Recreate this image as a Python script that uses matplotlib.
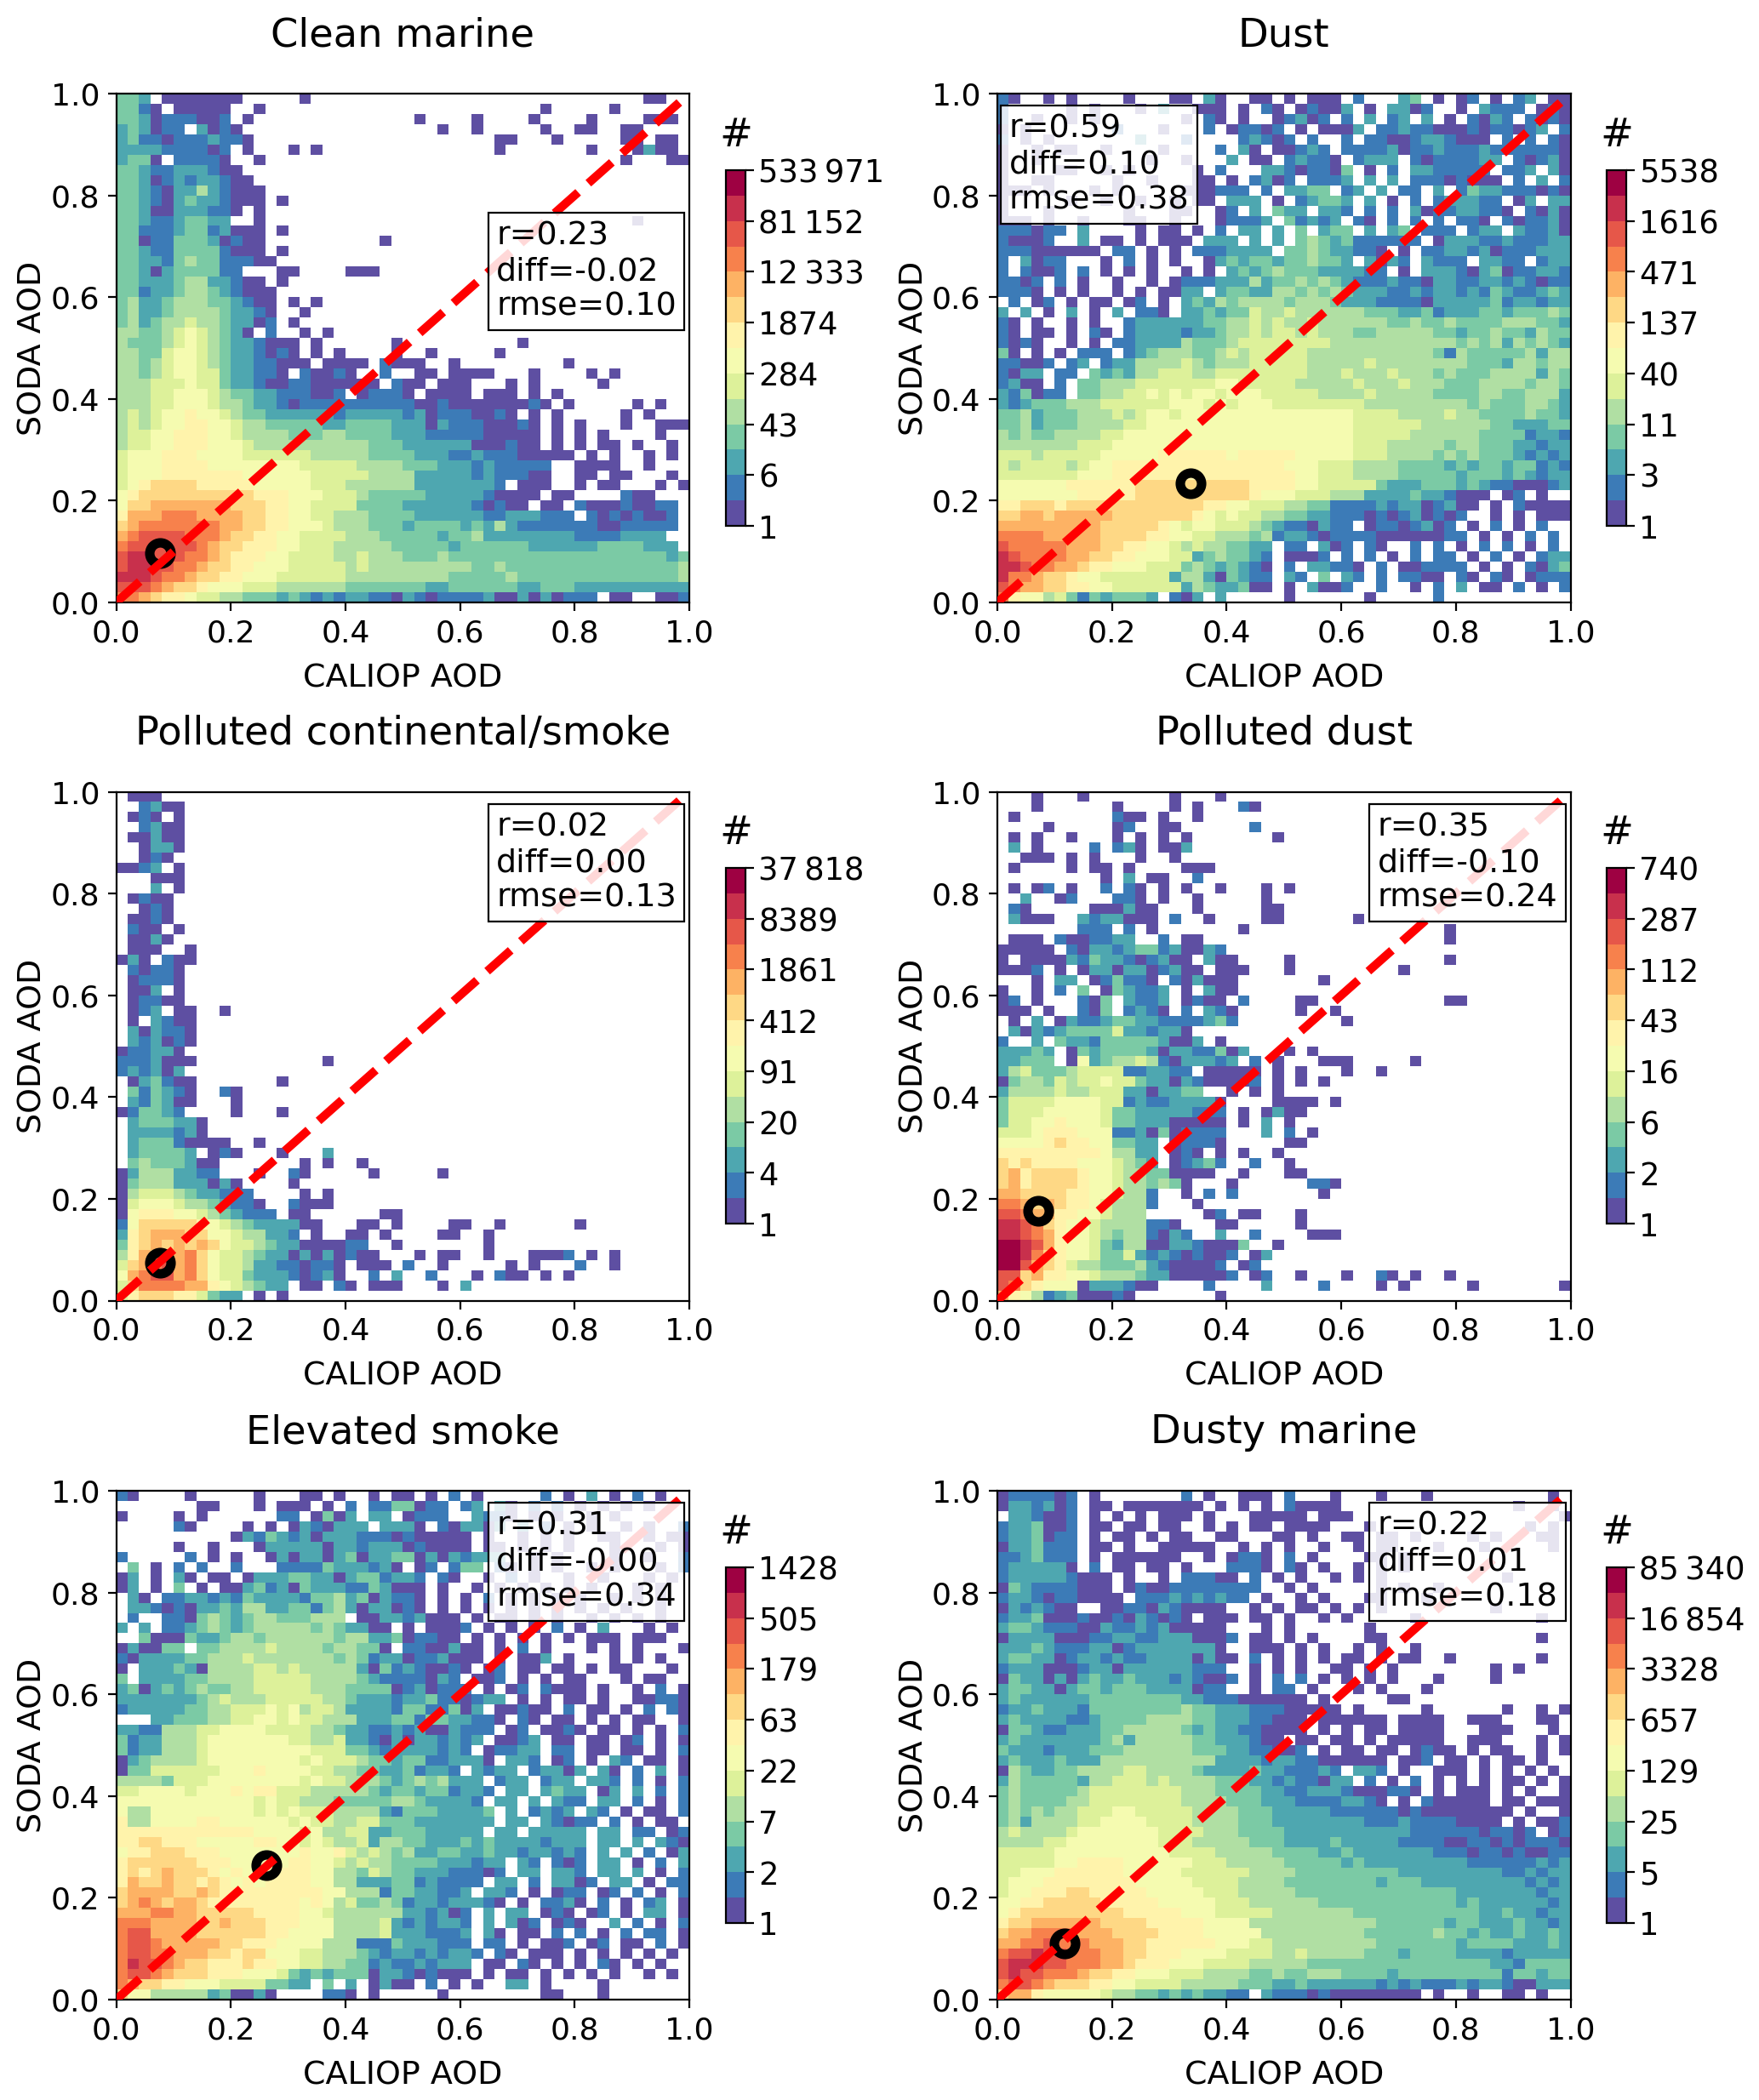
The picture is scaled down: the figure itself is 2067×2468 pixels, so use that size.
import matplotlib

matplotlib.use("Agg")
import matplotlib.pyplot as plt
import numpy as np
from matplotlib.colors import LogNorm

TITLES = ["Clean marine", "Dust", "Polluted continental/smoke",
          "Polluted dust", "Elevated smoke", "Dusty marine"]
VMAX = [533971, 5538, 37818, 740, 1428, 85340]
CB_LABELS = [
    ["1", "6", "43", "284", "1874", "12\u2009333", "81\u2009152", "533\u2009971"],
    ["1", "3", "11", "40", "137", "471", "1616", "5538"],
    ["1", "4", "20", "91", "412", "1861", "8389", "37\u2009818"],
    ["1", "2", "6", "16", "43", "112", "287", "740"],
    ["1", "2", "7", "22", "63", "179", "505", "1428"],
    ["1", "5", "25", "129", "657", "3328", "16\u2009854", "85\u2009340"],
]
STATS = ["r=0.23\ndiff=-0.02\nrmse=0.10", "r=0.59\ndiff=0.10\nrmse=0.38",
         "r=0.02\ndiff=0.00\nrmse=0.13", "r=0.35\ndiff=-0.10\nrmse=0.24",
         "r=0.31\ndiff=-0.00\nrmse=0.34", "r=0.22\ndiff=0.01\nrmse=0.18"]
MEAN_X = [0.077, 0.337, 0.077, 0.072, 0.262, 0.118]
MEAN_Y = [0.097, 0.234, 0.074, 0.177, 0.265, 0.110]

# colour class per cell, top row first: . empty, 1-9 a-e = the 14 colorbar bands
# spaces only group the columns in tens
CLEAN_MARINE = [
    "443.1111111.....1.............................11..",
    "4421.11111..1........................1.....1......",
    "4431222112.1..............1....1....1....1....111.",
    "343122.3121.................1..1.....1..11..11....",
    "342212223221.....................11...1.....11.11.",
    "3333222212.1...1.1...............1.......1...1311.",
    "3441.22221..1...............................1...11",
    "44322333211.......................................",
    "443123233211......................................",
    "4432133532111.....................................",
    "4432134332111.1...................................",
    "44311333221.1.....................................",
    "4432234433..1................................1....",
    "4422234423111.1...................................",
    "4412244431211..........1..........................",
    "4432244442111.1...................................",
    "44332454422211....................................",
    "44313444422...11....111...........................",
    "4433345533211.1...................................",
    "44233455432111....................................",
    "45334555443211.1.1................................",
    "45334555543321..1.................................",
    "45345565543312.1..................................",
    "55445676543 1.2..1.1..............................",
    "5444567654332111.1......1..........1..............",
    "55446776543321 21.1.1....1..1.....1...............",
    "55456776543322111.1111.2111..1.........1..........",
    "554567766433221.2112 1..2..11.1111...1....1.1.....",
    "5556667664332112211111 1.211.111...1.1.....1......",
    "55566777654433222112.12221.1111.111.1.1...........",
    "55566777655433212222222222112111111121.1.....1.1..",
    "56567787765443333332333332312221121.1.1.....1.1...",
    "5656778877655444443344443331322211121.1.1...1..111",
    "5667788877655554445544443332222211111.1.1.1....1..",
    "5667788877765555555555444333333111211.1.1.11.1..1.",
    "6777888777766666655555444433322322211111.1.1..1.1.",
    "677788887777777766666555544433323222 22..1111..1..",
    "67778888888777777666665555333332322211..11.11...1.",
    "6789999888887777766655555533333332.111..1.11...1.1",
    "7899999999998887776665444443333321111.11....211..",
    "799aaaaaaa999887766664444333333212 11.11.2111211 22",
    "8aaabbbaaaa9988776655 5444433333322333222.21212 112",
    "9abbbbbbbaa998877765554443444434 35 322222221122222",
    "abccccbbba99887766665 5544444344 53 33333332222 3333",
    "bccccccba9988877666555 554444434444443333334444333",
    "cddcccbba988877666655 65554445444444444444444444434",
    "cddccbba998877766666 565555555554454444444444444445",
    "dddcbba99887776666665555555554444454444444444444 45",
    "cccba998777666555555444444433444444334443333333333",
    "bba9887665544434323233221321222231131312 22.11..112",
]

DUST = [
    "21..1.1... .1...11.31 ..11.1.111 .2...34.1. 12.1.23.11",
    "2.....1.1. ..1.3..111 .1.21.1211 3.1.3312.. 1.3222.121",
    "2..1..1.1. ......1.21 .1..12312. 2.3.23.3.1 .2132.2121",
    "1.1....... 2...1...2. 12212.1.11 13.2232211 12122123.2",
    "2.1.1..... ..3...2... .23212.2.. 2.22112332 111.2.2.21",
    "1..1.11..1 ....1....2 .31.11232. 2222312232 2232222221",
    "1..1...... ...1..1... 3.11.23221 .2333.2122 2233.21231",
    "1....11..1 .1.....1.2 ...3321221 4.1.2.3322 222.223.31",
    "1..11..... 1..1...11. 1.2312.222 3.3.3.2221 2111.2.3.2",
    "111.1...1. 1.....1112 22.2.3344. 23.3.22.3. 2433222121",
    "1.....1..1 ..1..1.11. 333.1.2344 3.3.1.2.23 3322.13.33",
    "1...1..... .1...11..1 2.3.433.33 2.2.2.3122 33221.2131",
    "111.1..1.. .11..1...1 2223.42323 .21.2.2.2. 221.212231",
    "222122.3.. ..1.11.1.2 .33.3.4.34 4.3.34.222 .233.32231",
    "21112..3.1 1.1.111.33 3.3.3.4543 4222222.13 3322322233",
    "222111111. 22.1.1.222 3333.44543 3221.1.223 3231222333",
    "2.3122...1 .2.1.1..13 4344344544 3.3132.322 2.3322.233",
    "2.2112.2.1 .1.1..1.1. 3434544433 3322.1.333 2134122332",
    "2212.2.1.. 1..1.12223 3353445454 3222322133 2233232122",
    "2221.1.1.. 1.1.1133.3 4433554545 4333223233 2324322343",
    ".2.12.1.11 .12.1.3435 4555545554 3332222133 3334233233",
    "3.3.1.3.1. 3.221.3343 4465565555 5544433423 3344344454",
    "21.1..1.1. .233333344 5565655655 5555445445 4444555443",
    "21.11.1.21 .233332334 5565665655 5445555544 3445443544",
    "2121..1.1. 2233335444 5666666665 5555555555 4545354543",
    "41.1.1.222 .234555445 6566666555 5555555542 5444445355",
    "22112.23.2 3355556545 5566666555 5565555555 5444355455",
    "2133.22.43 4355666556 6666666555 6555655545 4445555354",
    "2311.2.445 5566666667 7666665555 5655565554 4455554554",
    "324122.445 5667676776 7776666655 5565555544 4455445553",
    "3234445556 6666677767 6777666666 6655555555 5454445543",
    "4453444555 6567767777 7777777777 7666655556 5544445443",
    "4453444555 5667777777 7777777777 7666666555 5554433344",
    "5454455556 6777777777 7777777777 7666665555 5544442332",
    "5555555666 7777787777 7777777777 7666555554 5544433233",
    "6665666667 7777888888 7888887777 7666555545 4544432323",
    "6566665677 8888888888 8888877766 6555544443 4344344232",
    "6666666777 8888888888 8888887766 6555544444 3444343233",
    "7777778888 8899999999 9988887766 6664333444 3432211123",
    "7777777888 8899999999 9987776665 5533334332 111.12.1..",
    "8899989999 9999999988 7766655442 2223233123 11.1.21111",
    "99aa9aaaaa 9999999876 7665544332 2212123121 2..1.1.111",
    "aaaaaaaaa9 9999876776 6654322132 2.12212312 .1.2.1.2..",
    "bbbbaaaaa9 9998877665 5545233212 2221111112 2.1.1.2.2.",
    "cbbbbbaaa9 9887765655 4433.22.31 2.21..2.2. 1.2.2.1.2.",
    "dcbbbbaa99 8877766345 4432.1112. 2.2.1.2.22 .1.2.1.233",
    "ddcbbaa988 7776664543 4321.2.332 21.2.11222 2.1.1.2134",
    "dbba998776 6666635531 4322.32.4. 32.2.2211. 21.21.1222",
    "cbaa998877 6666663543 3411.1.311 2..2..1.2. 3.11.2.1.2",
    "b877564243 4443.213.3 .....1.... ..1.....2. ..........",
]

POLLUTED_CONT = [
    ".111",
    "..2311",
    ".121.1",
    "..2311",
    ".11311",
    "..1331",
    "..121",
    "1123.1",
    "...111",
    "...3.1",
    ".1211",
    "..121",
    ".1121",
    ".211.1",
    ".1131",
    ".111..1",
    "131.211",
    ".21221",
    ".12221",
    ".113.1",
    ".12211",
    ".123.11..1",
    ".1.3211",
    ".313221",
    ".323121",
    "122331",
    "2223111...........1",
    "232313",
    ".134211.......1",
    ".424321..21",
    ".324311...1",
    "124432....1...1",
    ".3444331",
    ".3333231",
    ".344421111..1",
    ".344443.121...1...3",
    ".4544431 1.......1.1..1",
    "135553322...1..21.....1.....1",
    "14555333131....1",
    "15666543322 2....1.1",
    "16777655432 21..2111",
    "178887765 43222.11......11",
    "279999987654333311...11.1....11..1......1",
    "389aaa997765533 2.1..11.1....11..1",
    "489a9a9a976654331111 22..1.......1",
    "58a9aab9766543313131211...1.11..1...1112.1.1",
    "69abcab976653322122 1.111.2..1.....1.1...2..1",
    "7abccab97664333212 3 1..2.3..2...1.2 11.1.1",
    "69bbbbaa8765433.11.21.111...1.3",
    "6899988 6 4 3 3.1.1",
]

POLLUTED_DUST = [
    "...1...1.. .....1...1",
    "...1...... 1....1.1.. .21",
    ".1........ 211.1..1",
    "....1..... 12..11.... ..2",
    ".1.1..1... 1.1.1.1... ....1",
    ".3.1....2. 231.113",
    "..111.1.1. ..1..1",
    ".1....1.11 .1....111",
    ".........1 .3.11..2",
    ".1.12.1..2 .21.1.1..1 ...1.1",
    "..3..12... 221.1..1.. ...1",
    ".21.....11 1311...1.. ...11",
    ".3111..323 3111.2..1. ...11..... .1",
    ".......222 .2.1...... .1........ .........1",
    ".111.21122 33..2.11.. .......... .........1",
    "11111.2133 2344231132 .......... ",
    "1.11113243 3212311.31 1....1.... .........1",
    "1112.1.133 13312311.1 11...1.... .....1",
    "...1.33.12 4221.21311 1.......1.",
    "1..1.2.4.1 43223.1.31 1.........",
    "12.1...214 .3223.1211 .2....11.. .........1 1",
    "111.1..214 .2321.2.32 1.....1..1",
    ".1.3.13223 4433222234 2.........1",
    ".313234444 6332331...",
    "2..3.43324 4444311 3.1",
    "33343.1434 4443133224 13...1.1..",
    "33444.1734 5565213332 3.2.1...11 1.....1",
    "3564445666 6223322.11 111.1.1...1..1",
    "1455465667 664331321 1112.1.1.1",
    "3555565566 6331334 4..1.1.1",
    "4666677776 6232233331 ....1111.1",
    "4666777776 4433333222 .1.1311",
    "4667787776 4433311111 .1.3.1",
    "6667888777 2231412222 ...3.2.1",
    "7777898877 4433.12221 .....11",
    "8888888887 5533.121.1 .1..1",
    "9898888777 6543.12342 ..2..1",
    "9a89999877 655441111. .1...11",
    "9a89999877 6554541... 1...... 221",
    "aa99998877 6552..1.2. 2.......1",
    "bba9a98876 5552...1",
    "ccbaa88776 555.....12 .11...1",
    "ddcb987765 555221...1 1.....1",
    "ddcba87765 4552132..3 ..2....111",
    "eedca87764 3551133211 14..1",
    "eedb987764 4632321211 2.13",
    "eeca986554 4453211112 .12",
    "cc9a887765 5543311111 2.12..1... 1..21.1..1",
    "cb98777133 3211....2. ...3....2. ...1.1.... .1.......1",
    "a875234111 21.......1",
]

ELEVATED_SMOKE = [
    "21....1... ..1...11.1 ..1.11.1.2 .1.....2.1 .3.1.2.1..",
    ".......11. ..1.111.1. 2.2244122. 23.31.2.2. 1.1.1.1...",
    "1....1.1.. ....22.141 3.33.1222. .3221.1.1. .1.1......",
    ".....21... .1.1.13213 33.3331.21 3313.3.2.1 .1..1.1..2",
    ".......... 1324323133 3222121111 1.1..1.1.1 ..11..1.11",
    ".....1..1. ..13333313 3233312111 1.11.1.1.1 ...1...1.1",
    "2.....2.1. 1..1313313 4133441313 2333..1.1. ...1..1..2",
    ".4.1.2.2.. 2...222243 33231.12.2 44.21.1.1. .1.1...1.2",
    "13.1.31.11 .133344331 3442332.21 ..1.2.1..1 ..1...1.1.",
    "13.1.4.1.1 1342314333 2243111.1. .1.1.1.1.1 .1...1.1..",
    ".31.223323 2433332445 3413221.1. 1.2.1.1.1. 1..1.1.1..",
    ".332121334 3553344245 3133121.1. 1.1.1.1.1. 1.1.1..1..",
    ".2..221454 3455444555 .113323111 .1.11.1.1. .1.1.1.1..",
    "3.3.223454 3455555454 3311.1.111 2.1.1.1.2. 1.3...1.1.",
    "..41114334 5545555554 5533412211 .1.1.1.1.1 .111.111..",
    "131144.445 5556555545 5441.22113 11.1.2.1.. .1.1.1...1",
    "2133334455 5655555554 5423312231 11.1.113.1 ...1.1.1..",
    "1.33343155 5566565555 5314232112 1.12.11.11 .1.11...1.",
    "4.33334455 5566666555 5432222132 .112.1.1.1 1...1.11..",
    "3413434544 5566666555 4444123122 2.1.12.211 1.1..1.2.1",
    "3333333456 5556666655 4333233422 1233.1.1.1 1.1..11221",
    "2333334455 6667675665 3333244224 13.11211.2 .11.1.2.21",
    "...3344455 6677676655 5333442443 3221.21.11 .1.1.11..1",
    "3322555667 7776666554 3322323113 222.12.112 1.11.1.1.2",
    "4233555677 7777766556 3321313323 23.1123.11 .11.12.1.1",
    "4233555677 7777777666 4432333323 2.12233.22 .11.11.1.2",
    "1345555677 7777776766 6544344223 331.332.12 .1.32.11.1",
    "1446666667 7787777665 5443342332 .3233.2331 3.31.2.3.1",
    "5555466677 7777776766 5554345453 33.233.233 .332.2.1.2",
    "6677776777 8788666555 5543443442 332.33.343 3.13.3.2.2",
    "7777777777 7767665554 4444554333 32.33.3.32 2.33.2.1.2",
    "7557777777 7767676665 5553244433 334.3.2323 .32.1.11.2",
    "8557777887 7777767665 5664443333 333.33.321 22.2.1.11.",
    "8888888888 8877776755 6633444333 33.33.3333 3.33.22.12",
    "8899888777 7788776765 5635544333 4343333233 3.33.3.321",
    "7889998887 7777778778 6565453344 3343323323 2.3.3.2.13",
    "8999999888 7777788776 5655444433 3233.32.21 2.33.1.2.3",
    "8989a99987 8778888775 5465443332 2212.33.33 2.33.3.1.2",
    "8a99a99898 7878888775 5333442322 22.33.2.33 12.33.1.22",
    "9aaaa99a98 8888888877 5552443322 3.332.1.12 2.12.2.1.2",
    "9aba9aa988 8888887875 6445423323 3321.1.223 1.2.1.23.1",
    "aaabbaa999 9988887765 5555533231 2.3.33.121 .12.1.33.1",
    "bbbaaaa99a 9998887775 5556323233 2.3.312.12 1..3.2.1.2",
    "bccaaaa999 9998877775 5556333222 3.31.11.2. 2.1.2.22.1",
    "bccbaaaaa9 9888777755 5222433322 2.22.1.112 .12.11.2.1",
    "bccbbaaa99 8997776655 5432332323 32.21.111. 1.1.1.1.1.",
    "bdccba9988 8988776655 4423223233 3.11.21.1. 1.21.1.1..",
    "bccba99988 8777643434 4413321211 1.1.11.1.1 .1.1..1.1.",
    "ba99887776 6664433.4. 3.1311.2.1 .1..33.1.. ..1.......",
    "9775555534 1131....22 1.1.....1. .......11. ..1.......",
]

DUSTY_MARINE = [
    "1222212.1. ......2.1. .111.2...1 ...1...1.. ........1.",
    "1332312.11 .1111111.1 .1.1.21111 .......... .....1..1.",
    ".332112.1. 1.1.111.1. ..11111.11 1......... .........1",
    "2334112.11 .11.11..1. 1.11.1111. ..1....... ......1.1.",
    "2334122.1. 11.1.11..1 1...11.1.. 11.11.1... .1.1...11.",
    "1334222.11 .1..11111. .1.1.1..1. .1.11...1. ..1.....1.",
    "2234222.1. 111111..1. 1221.2.1.. ..11.1.... ..........",
    "2333331.2. 11.11.1... 2221.21.1. .1.1.1.... ..........",
    "2333332111 .1..1.2221 1.2.1.1..1 .1.1...... ....1.....",
    "1432222111 .121122222 222..1.1.. ...1.1..1. ..........",
    "2332122111 1.22232323 22.1..1.1. ..11...1.. ..........",
    "1323211..1 1221321111 ..1.1.11.1 .1.1...... ...1......",
    "2334111211 2132121.11 1.11.1..1. 1.....1... .......1..",
    "3443222113 2232311111 ...1.1.... ..1....... ..........",
    "1333311122 3322333111 2.11.1.1.. ..11...... .......1..",
    "3334322233 1233333331 ..111.1.1. .1.1..1... ..........",
    "3443312332 3223333131 1.2.1.1.1. 11.1.11..1 .......1..",
    "2333111233 1333333222 ..1.1.1..1 1.1.1..... ...1.1....",
    "1433131343 3433323211 2.1.2.2.1. 1.1.1...1. ...1......",
    "3443313443 4443333122 ..1.22.1.. .1.1...1.. ..........",
    "3433333344 4444443322 2111111.1. ....11.... ..........",
    "2334333244 4444445443 3322211111 .1.....1.. ....1..1.1",
    "3433332234 4445555443 3322111.11 1111.1111. .111...11.",
    "1443223334 4555554343 3221111.1. 1.11.1111. ..111...1.",
    "3433333334 5355555443 33211.11.1 1.1.11111. .111...1.1",
    "4333233344 4555555444 3322112.1. 11.11.1211 .1.11..1.1",
    "3433343335 5555555553 3332332211 1111.112.1 1.1.11.1..",
    "1543344555 5665555433 3343322232 .332.1..11 1.1.1.1.1.",
    "3544444355 6665655554 4433232213 3.2.1.2.1. 1.1.11.1.1",
    "4544444566 6666665554 4443322333 2111221.1. 111.1.1..1",
    "4544445566 6666665555 4443332222 3321.1.211 111.11.111",
    "4545455666 7766666555 5444333332 2222212111 11111.1..1",
    "4535555667 7776666555 5444333333 3322232222 1111.1.112",
    "5655556777 7777666655 5444433333 3333332222 2212212.12",
    "5555667777 7777666555 5544433334 3333322221 1221212221",
    "6666677777 7777766665 5555444433 4333333322 2122121122",
    "6666677888 8777777666 5555544444 3433333333 3222222323",
    "6677788888 8777776666 6655554444 4444433333 3333223233",
    "6777888888 8877777666 6555544444 4443444333 3333332323",
    "6778889988 8887777766 6555554444 4444444444 3333333233",
    "7788999998 8888777776 6655555544 4444444444 3433333323",
    "7899999999 9888887776 6666555555 5444444444 4433433233",
    "899aaaaaa9 9998888877 7755555555 5554444443 4433343323",
    "9aabbbbaaa 9999888877 7775555555 5544444454 4343343343",
    "aabbcbbbaa a998888887 7766555555 5554444444 3444433343",
    "bccdccbbba a998887777 6666556555 5544434444 3333233333",
    "cdddccbbba a988877766 6655555444 4444444444 4443324444",
    "cdccbbba99 8877766655 5544544555 4444344444 4444244344",
    "bccba99988 7766665555 5444334333 3332323222 3233211333",
    "9aa8777776 5544343433 22.3222121 1111111.1. .1..11.1..",
]

GRIDS = [CLEAN_MARINE, DUST, POLLUTED_CONT, POLLUTED_DUST, ELEVATED_SMOKE, DUSTY_MARINE]
CLASSES = "123456789abcde"
N_BINS = 50
N_BANDS = 14
W, H = 2067, 2468
AX_LEFT = [136.5, 1172.0]
AX_TOP = [110.0, 930.5, 1752.0]
CB_LEFT = [853.0, 1888.0]
CB_TOP = [200.0, 1020.0, 1842.0]


def counts_from_rows(rows, vmax):
    grid = np.full((N_BINS, N_BINS), np.nan)
    for i, row in enumerate(rows[:N_BINS]):
        for j, c in enumerate(row.replace(" ", "")[:N_BINS]):
            if c in CLASSES:
                # middle of the band on the log colour scale
                grid[N_BINS - 1 - i, j] = vmax ** ((CLASSES.index(c) + 0.5) / N_BANDS)
    return grid


def to_fig(x, y, w, h):
    return [x / W, 1 - (y + h) / H, w / W, h / H]


fig = plt.figure(figsize=(W / 200, H / 200), dpi=200)
cmap = plt.get_cmap("Spectral_r", N_BANDS)
edges = np.linspace(0, 1, N_BINS + 1)

for idx, title in enumerate(TITLES):
    col, row = idx % 2, idx // 2
    ax = fig.add_axes(to_fig(AX_LEFT[col], AX_TOP[row], 673.5, 598))
    norm = LogNorm(vmin=1, vmax=VMAX[idx])
    mesh = ax.pcolormesh(edges, edges, counts_from_rows(GRIDS[idx], VMAX[idx]),
                         cmap=cmap, norm=norm)
    ax.plot(MEAN_X[idx], MEAN_Y[idx], "o", ms=9, mfc="none", mec="k", mew=4, zorder=3)
    ax.plot([0, 1], [0, 1], "r--", lw=3.6, zorder=4)
    ax.set_xlim(0, 1)
    ax.set_ylim(0, 1)
    ax.tick_params(labelsize=13)
    ax.set_xlabel("CALIOP AOD", fontsize=13.7, labelpad=6.5)
    ax.set_ylabel("SODA AOD", fontsize=13.7, labelpad=1)
    ax.set_title(title, fontsize=16.7, pad=20)
    tx, ty = (0.02, 0.96) if idx == 1 else (0.663, 0.75 if idx == 0 else 0.96)
    ax.text(tx, ty, STATS[idx], transform=ax.transAxes, fontsize=13.7, va="top", ha="left",
            zorder=5, bbox=dict(boxstyle="square,pad=0.25", fc=(1, 1, 1, 0.85), ec="k", lw=0.8))

    cax = fig.add_axes(to_fig(CB_LEFT[col], CB_TOP[row], 23, 418))
    cb = fig.colorbar(mesh, cax=cax)
    cb.set_ticks([VMAX[idx] ** (k / 7) for k in range(8)], labels=CB_LABELS[idx])
    cb.minorticks_off()
    cax.tick_params(labelsize=13.3, pad=2)
    cax.set_title("#", fontsize=16.7, pad=10)

fig.savefig("out.png", dpi=200)
